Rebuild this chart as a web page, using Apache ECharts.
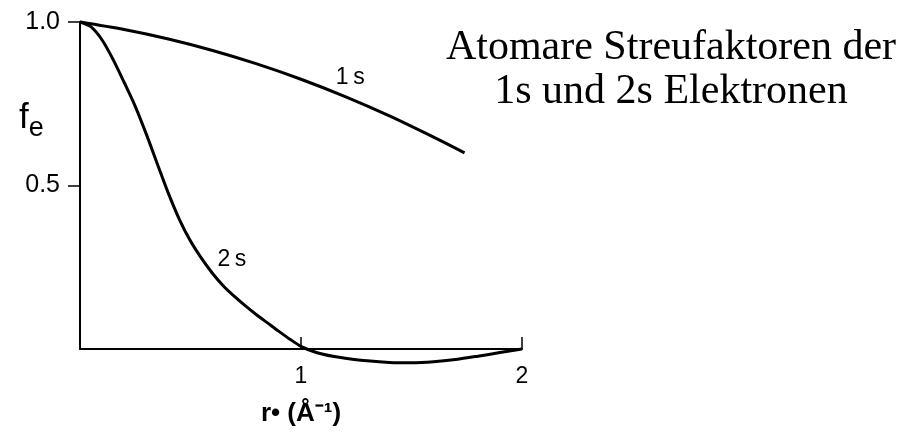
<!DOCTYPE html>
<html>
<head>
<meta charset="utf-8">
<script src="https://cdn.jsdelivr.net/npm/echarts@6/dist/echarts.min.js"></script>
<style>
  html, body { margin: 0; padding: 0; background: #fff; }
  #chart { width: 912px; height: 432px; }
</style>
</head>
<body>
<div id="chart"></div>
<script>
// Scattering vector r* (1/Å) and atomic scattering factor f_e for the 1s shell
const r1s = [0, 0.2, 0.4, 0.6, 0.8, 1.0, 1.2, 1.4, 1.6, 1.74];
const f1s = [1.0, 0.977, 0.948, 0.913, 0.872, 0.825, 0.772, 0.713, 0.648, 0.6];

// Same for the 2s shell (dips slightly below zero past r* = 1)
const r2s = [0, 0.05, 0.1, 0.15, 0.2, 0.25, 0.3, 0.35, 0.4, 0.45, 0.5, 0.55, 0.6, 0.65, 0.7, 0.75, 0.8, 0.85, 0.9, 0.95, 1.0,
             1.05, 1.1, 1.15, 1.2, 1.3, 1.4, 1.5, 1.6, 1.7, 1.8, 1.9, 2.0];
const f2s = [1.0, 0.985, 0.945, 0.885, 0.815, 0.742, 0.657, 0.566, 0.476, 0.396, 0.33, 0.277, 0.231, 0.192, 0.16, 0.131, 0.104, 0.079, 0.054, 0.030, 0.008,
             -0.006, -0.016, -0.023, -0.028, -0.036, -0.041, -0.042, -0.039, -0.032, -0.022, -0.011, 0.0];

// Curve captions and where they sit (data coordinates)
const curveNames = ['1s', '2s'];
const captionText = ['1\u2009s', '2\u2009s'];
const captionPos = [[1.223, 0.831], [0.687, 0.274]];

// Axis ticks and their labels
const xTicks = [1, 2];
const xTickLabels = ['1', '2'];
const yTicks = [0.5, 1.0];
const yTickLabels = ['0.5', '1.0'];

const zip = (xs, ys) => xs.map((x, i) => [x, ys[i]]);

const chart = echarts.init(document.getElementById('chart'), null, { renderer: 'canvas' });

const sans = 'Liberation Sans, Arial, sans-serif';

chart.setOption({
  animation: false,
  backgroundColor: '#ffffff',
  grid: { left: 80, right: 390, top: 22, bottom: 79, containLabel: false },
  title: {
    text: 'Atomare Streufaktoren der\n1s und 2s Elektronen',
    left: 671,
    top: 26,
    padding: 0,
    textAlign: 'center',
    textStyle: {
      fontFamily: 'Liberation Serif, Times New Roman, serif',
      fontWeight: 'normal',
      fontSize: 42,
      lineHeight: 44,
      color: '#000',
      align: 'center'
    }
  },
  xAxis: {
    type: 'value',
    min: 0,
    max: 2,
    splitLine: { show: false },
    axisLine: { show: true, onZero: false, lineStyle: { color: '#000', width: 2 } },
    axisTick: {
      show: true,
      inside: true,
      length: 12,
      customValues: xTicks,
      lineStyle: { color: '#000', width: 1.5 }
    },
    axisLabel: {
      show: true,
      customValues: xTicks,
      margin: 16,
      color: '#000',
      fontFamily: sans,
      fontSize: 23,
      formatter: v => xTickLabels[xTicks.indexOf(v)] ?? ''
    },
    name: 'r• (Å⁻¹)',
    nameLocation: 'middle',
    nameGap: 52,
    nameTextStyle: { color: '#000', fontFamily: sans, fontSize: 26, fontWeight: 'bold' }
  },
  yAxis: {
    type: 'value',
    min: 0,
    max: 1,
    splitLine: { show: false },
    axisLine: { show: true, lineStyle: { color: '#000', width: 2 } },
    axisTick: {
      show: true,
      inside: false,
      length: 12,
      customValues: yTicks,
      lineStyle: { color: '#000', width: 1.5 }
    },
    axisLabel: {
      show: true,
      customValues: yTicks,
      margin: 20,
      color: '#000',
      fontFamily: sans,
      fontSize: 25,
      formatter: v => yTickLabels[yTicks.indexOf(v)] ?? ''
    }
  },
  graphic: [
    {
      type: 'text',
      left: 19,
      top: 101,
      style: {
        text: '{f|f}{e|e}',
        rich: {
          f: { fontFamily: sans, fontSize: 35, fill: '#000', verticalAlign: 'bottom' },
          e: { fontFamily: sans, fontSize: 27, fill: '#000', verticalAlign: 'bottom', padding: [0, 0, -6, 0] }
        }
      }
    }
  ],
  series: [
    {
      name: curveNames[0],
      type: 'line',
      data: zip(r1s, f1s),
      smooth: 0.3,
      showSymbol: false,
      symbol: 'none',
      clip: false,
      lineStyle: { color: '#000', width: 3 }
    },
    {
      name: curveNames[1],
      type: 'line',
      data: zip(r2s, f2s),
      smooth: 0.3,
      showSymbol: false,
      symbol: 'none',
      clip: false,
      lineStyle: { color: '#000', width: 3 }
    },
    {
      type: 'scatter',
      symbolSize: 0,
      clip: false,
      itemStyle: { opacity: 1 },
      data: captionPos.map((p, i) => ({ value: p, name: captionText[i] })),
      label: {
        show: true,
        position: 'inside',
        formatter: p => p.name,
        color: '#000',
        opacity: 1,
        fontFamily: sans,
        fontSize: 23
      }
    }
  ]
});
</script>
</body>
</html>
